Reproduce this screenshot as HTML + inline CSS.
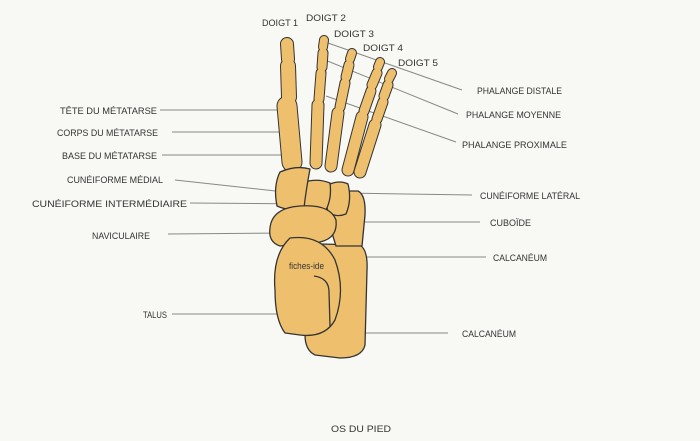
<!DOCTYPE html>
<html><head><meta charset="utf-8"><style>
html,body{margin:0;padding:0;background:#f8f8f5;}
svg{display:block}
text{font-family:"Liberation Sans",sans-serif;font-size:9px;fill:#333;}
</style></head><body>
<svg width="700" height="441" viewBox="0 0 700 441">
<rect width="700" height="441" fill="#f8f8f5"/>
<g stroke="#888" stroke-width="1" fill="none">
<line x1="160" y1="110" x2="284" y2="110"/>
<line x1="172" y1="132" x2="282" y2="132"/>
<line x1="162" y1="155" x2="285" y2="155"/>
<line x1="175" y1="180" x2="285" y2="192"/>
<line x1="190" y1="203" x2="310" y2="204"/>
<line x1="168" y1="234" x2="292" y2="233"/>
<line x1="172" y1="314" x2="302" y2="314"/>
<line x1="328" y1="43" x2="462" y2="90"/>
<line x1="325" y1="60" x2="458" y2="114"/>
<line x1="326" y1="96" x2="456" y2="142"/>
<line x1="345" y1="193" x2="472" y2="195"/>
<line x1="352" y1="222" x2="480" y2="222"/>
<line x1="355" y1="257" x2="486" y2="257"/>
<line x1="348" y1="333" x2="448" y2="333"/>
</g>
<g stroke-linecap="round">
<g stroke="#333">
<line x1="287" y1="44" x2="288" y2="59" stroke-width="14"/>
<line x1="288" y1="66" x2="289" y2="97" stroke-width="16"/>
<line x1="287" y1="106" x2="292" y2="162" stroke-width="21"/>
<line x1="324" y1="40" x2="323" y2="47" stroke-width="10"/>
<line x1="323" y1="53" x2="322" y2="67" stroke-width="11"/>
<line x1="321" y1="73" x2="319" y2="99" stroke-width="11"/>
<line x1="318" y1="105" x2="316" y2="163" stroke-width="13"/>
<line x1="352" y1="53" x2="350" y2="59" stroke-width="10"/>
<line x1="349" y1="65" x2="346" y2="77" stroke-width="11"/>
<line x1="345" y1="83" x2="340" y2="107" stroke-width="11"/>
<line x1="338" y1="113" x2="331" y2="166" stroke-width="13"/>
<line x1="380" y1="62" x2="378" y2="67" stroke-width="10"/>
<line x1="377" y1="73" x2="372" y2="85" stroke-width="11"/>
<line x1="371" y1="91" x2="364" y2="111" stroke-width="11"/>
<line x1="362" y1="117" x2="348" y2="170" stroke-width="13"/>
<line x1="392" y1="73" x2="389" y2="79" stroke-width="10"/>
<line x1="388" y1="85" x2="384" y2="96" stroke-width="11"/>
<line x1="383" y1="102" x2="377" y2="119" stroke-width="11"/>
<line x1="375" y1="125" x2="360" y2="172" stroke-width="13"/>
</g>
<g stroke="#eec06e">
<line x1="287" y1="44" x2="288" y2="59" stroke-width="12"/>
<line x1="288" y1="66" x2="289" y2="97" stroke-width="14"/>
<line x1="287" y1="106" x2="292" y2="162" stroke-width="19"/>
<line x1="324" y1="40" x2="323" y2="47" stroke-width="8"/>
<line x1="323" y1="53" x2="322" y2="67" stroke-width="9"/>
<line x1="321" y1="73" x2="319" y2="99" stroke-width="9"/>
<line x1="318" y1="105" x2="316" y2="163" stroke-width="11"/>
<line x1="352" y1="53" x2="350" y2="59" stroke-width="8"/>
<line x1="349" y1="65" x2="346" y2="77" stroke-width="9"/>
<line x1="345" y1="83" x2="340" y2="107" stroke-width="9"/>
<line x1="338" y1="113" x2="331" y2="166" stroke-width="11"/>
<line x1="380" y1="62" x2="378" y2="67" stroke-width="8"/>
<line x1="377" y1="73" x2="372" y2="85" stroke-width="9"/>
<line x1="371" y1="91" x2="364" y2="111" stroke-width="9"/>
<line x1="362" y1="117" x2="348" y2="170" stroke-width="11"/>
<line x1="392" y1="73" x2="389" y2="79" stroke-width="8"/>
<line x1="388" y1="85" x2="384" y2="96" stroke-width="9"/>
<line x1="383" y1="102" x2="377" y2="119" stroke-width="9"/>
<line x1="375" y1="125" x2="360" y2="172" stroke-width="11"/>
</g>
</g>
<g fill="#eec06e" stroke="#333" stroke-width="1.3" stroke-linejoin="round">
<path d="M320,244 L360,245 Q368,250 367,270 L365,345 Q362,358 340,358 L315,355 Q305,350 305,335 Z"/>
<path d="M333,191 L358,191 Q366,195 365,215 L362,246 L336,246 L328,220 Z"/>
<path d="M330,184 Q340,180 348,184 Q352,200 346,214 Q336,218 328,212 Q324,196 330,184 Z"/>
<path d="M304,182 Q318,178 330,183 Q332,198 326,210 Q314,213 302,208 Q298,194 304,182 Z"/>
<path d="M280,172 Q296,165 310,169 Q306,190 304,208 Q290,212 277,206 Q273,186 280,172 Z"/>
<path d="M270,228 Q272,208 300,206 Q330,204 336,220 Q338,238 320,242 L280,246 Q268,242 270,228 Z"/>
<path d="M290,238 Q322,234 335,260 Q346,290 335,320 Q325,338 300,335 L285,333 Q275,320 275,290 Q272,255 290,238 Z"/>
</g>
<path d="M314,276 Q329,278 329,292 L330,326" fill="none" stroke="#333" stroke-width="1.3"/>
<text x="289" y="269" textLength="35" lengthAdjust="spacingAndGlyphs" font-size="9">fiches-ide</text>
<text x="262" y="26" textLength="36" lengthAdjust="spacingAndGlyphs" font-size="11">DOIGT 1</text>
<text x="306" y="21" textLength="40" lengthAdjust="spacingAndGlyphs" font-size="11">DOIGT 2</text>
<text x="334" y="37" textLength="40" lengthAdjust="spacingAndGlyphs" font-size="11">DOIGT 3</text>
<text x="363" y="51" textLength="40" lengthAdjust="spacingAndGlyphs" font-size="11">DOIGT 4</text>
<text x="398" y="66" textLength="40" lengthAdjust="spacingAndGlyphs" font-size="11">DOIGT 5</text>
<text x="60" y="114" textLength="97" lengthAdjust="spacingAndGlyphs">TÊTE DU MÉTATARSE</text>
<text x="57" y="136" textLength="101" lengthAdjust="spacingAndGlyphs">CORPS DU MÉTATARSE</text>
<text x="62" y="159" textLength="95" lengthAdjust="spacingAndGlyphs">BASE DU MÉTATARSE</text>
<text x="67" y="183" textLength="96" lengthAdjust="spacingAndGlyphs">CUNÉIFORME MÉDIAL</text>
<text x="32" y="207" textLength="155" lengthAdjust="spacingAndGlyphs">CUNÉIFORME INTERMÉDIAIRE</text>
<text x="92" y="239" textLength="58" lengthAdjust="spacingAndGlyphs">NAVICULAIRE</text>
<text x="143" y="318" textLength="24" lengthAdjust="spacingAndGlyphs">TALUS</text>
<text x="477" y="94" textLength="85" lengthAdjust="spacingAndGlyphs">PHALANGE DISTALE</text>
<text x="466" y="118" textLength="95" lengthAdjust="spacingAndGlyphs">PHALANGE MOYENNE</text>
<text x="462" y="148" textLength="105" lengthAdjust="spacingAndGlyphs">PHALANGE PROXIMALE</text>
<text x="480" y="199" textLength="100" lengthAdjust="spacingAndGlyphs">CUNÉIFORME LATÉRAL</text>
<text x="490" y="226" textLength="41" lengthAdjust="spacingAndGlyphs">CUBOÏDE</text>
<text x="493" y="261" textLength="54" lengthAdjust="spacingAndGlyphs">CALCANÉUM</text>
<text x="462" y="337" textLength="54" lengthAdjust="spacingAndGlyphs">CALCANÉUM</text>
<text x="331" y="432" textLength="60" lengthAdjust="spacingAndGlyphs" font-size="10">OS DU PIED</text>
</svg>
</body></html>
